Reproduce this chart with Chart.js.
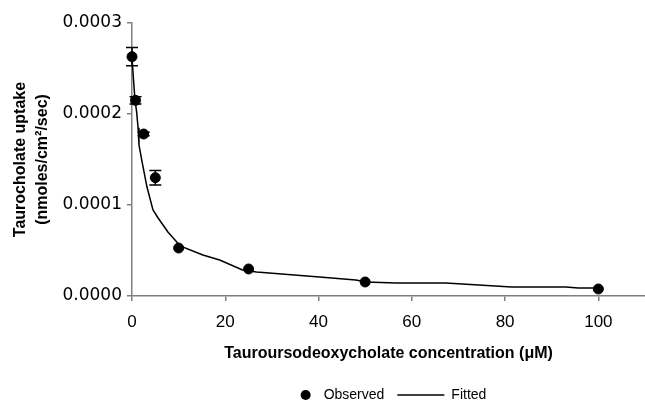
<!DOCTYPE html>
<html>
<head>
<meta charset="utf-8">
<script src="https://cdn.jsdelivr.net/npm/chart.js@4.4.1/dist/chart.umd.min.js"></script>
<style>
  html, body { margin: 0; padding: 0; background: #fff; }
  #wrap { width: 645px; height: 405px; position: relative; }
</style>
</head>
<body>
<div id="wrap"><canvas id="chart"></canvas></div>
<script>
// observed points (concentration in uM, uptake nmoles/cm2/sec)
const concentrations = [0, 0.75, 2.5, 5, 10, 25, 50, 100];
const observed = [0.000263, 0.000215, 0.000178, 0.000130, 0.0000527, 0.0000297, 0.0000154, 0.0000077];
const observedErr = [0.00001, 0.000004, 0.000002, 0.000008, 0, 0, 0, 0];

// fitted curve
const fitX = [0, 0.4, 0.65, 1, 1.3, 1.5, 2.1, 3.2, 4.5, 5.6, 7.7, 9.6, 10.3, 15.2, 18.8, 23.7, 26.7, 40.2, 48, 50.2, 56.6, 67.3, 81.4, 93, 95.7, 100];
const fitY = [0.000262, 0.000232, 0.000215, 0.000202, 0.000185, 0.000166, 0.000149, 0.00012, 0.0000945, 0.0000857, 0.0000703, 0.0000593, 0.000055, 0.000045, 0.0000396, 0.0000286, 0.0000264, 0.0000209, 0.0000176, 0.0000154, 0.0000143, 0.0000143, 0.0000099, 0.0000099, 0.0000088, 0.0000088];

const xTicks = [0, 20, 40, 60, 80, 100];
const yTicks = [0, 0.0001, 0.0002, 0.0003];

const axisGrey = '#808080';

const errorBars = {
  id: 'errorBars',
  afterDatasetsDraw(chart) {
    const ctx = chart.ctx;
    const xs = chart.scales.x, ys = chart.scales.y;
    ctx.save();
    ctx.strokeStyle = '#000';
    ctx.lineWidth = 1.5;
    concentrations.forEach((c, i) => {
      const e = observedErr[i];
      if (!e) return;
      const x = xs.getPixelForValue(c);
      const top = ys.getPixelForValue(observed[i] + e);
      const bot = ys.getPixelForValue(observed[i] - e);
      ctx.beginPath();
      ctx.moveTo(x, top); ctx.lineTo(x, bot);
      ctx.moveTo(x - 6, top); ctx.lineTo(x + 6, top);
      ctx.moveTo(x - 6, bot); ctx.lineTo(x + 6, bot);
      ctx.stroke();
    });
    ctx.restore();
  }
};

// legend under the axis title: dot for Observed, line for Fitted
const bottomLegend = {
  id: 'bottomLegend',
  afterDraw(chart) {
    const ctx = chart.ctx;
    const ds = chart.data.datasets;
    ctx.save();
    ctx.font = '14px "Liberation Sans", Arial, sans-serif';
    ctx.textBaseline = 'middle';
    ctx.fillStyle = '#000';
    const w0 = ctx.measureText(ds[0].label).width;
    const w1 = ctx.measureText(ds[1].label).width;
    const total = 10 + 13 + w0 + 13 + 47 + 7 + w1;
    const cx = (chart.chartArea.left + chart.chartArea.right) / 2 + 5;
    const y = 395;
    let x = cx - total / 2;
    ctx.beginPath();
    ctx.arc(x + 5, y, 5, 0, Math.PI * 2);
    ctx.fill();
    x += 10 + 13;
    ctx.fillText(ds[0].label, x, y);
    x += w0 + 13;
    ctx.strokeStyle = '#000';
    ctx.lineWidth = 1.5;
    ctx.beginPath();
    ctx.moveTo(x, y); ctx.lineTo(x + 47, y);
    ctx.stroke();
    x += 47 + 7;
    ctx.fillText(ds[1].label, x, y);
    ctx.restore();
  }
};

new Chart(document.getElementById('chart'), {
  type: 'scatter',
  data: {
    datasets: [{
      label: 'Observed',
      data: concentrations.map((c, i) => ({ x: c, y: observed[i] })),
      backgroundColor: '#000',
      borderColor: '#000',
      pointRadius: 5,
      pointHoverRadius: 5,
      showLine: false,
      clip: false
    }, {
      label: 'Fitted',
      type: 'line',
      data: fitX.map((v, i) => ({ x: v, y: fitY[i] })),
      borderColor: '#000',
      borderWidth: 1.5,
      pointRadius: 0,
      tension: 0,
      fill: false,
      clip: false
    }]
  },
  options: {
    responsive: true,
    maintainAspectRatio: false,
    animation: false,
    layout: { autoPadding: false, padding: { left: 0, right: 0, top: 23, bottom: 40 } },
    plugins: {
      legend: { display: false },
      tooltip: { enabled: false }
    },
    scales: {
      x: {
        type: 'linear',
        min: 0,
        max: 110,
        afterFit(scale) {
          scale.height = 69;
          scale.paddingLeft = 0;
          scale.paddingRight = 0;
        },
        afterBuildTicks(scale) { scale.ticks = xTicks.map(v => ({ value: v })); },
        border: { color: axisGrey, width: 1.5 },
        grid: { drawOnChartArea: false, color: axisGrey, lineWidth: 1.5, tickLength: 5 },
        ticks: {
          color: '#000',
          padding: 11,
          maxRotation: 0,
          font: { family: '"Liberation Sans", Arial, sans-serif', size: 17 }
        },
        title: {
          display: true,
          text: 'Tauroursodeoxycholate concentration (\u03bcM)',
          color: '#000',
          padding: { top: 0, bottom: 2 },
          font: { family: '"Liberation Sans", Arial, sans-serif', size: 16, weight: 'bold' }
        }
      },
      y: {
        min: 0,
        max: 0.0003,
        afterFit(scale) { scale.width = 132; },
        afterBuildTicks(scale) { scale.ticks = yTicks.map(v => ({ value: v })); },
        border: { color: axisGrey, width: 1.5 },
        grid: { drawOnChartArea: false, color: axisGrey, lineWidth: 1.5, tickLength: 5 },
        ticks: {
          color: '#000',
          padding: 5,
          font: { family: '"DejaVu Sans", sans-serif', size: 17 },
          callback: v => v.toFixed(4)
        },
        title: {
          display: true,
          text: ['Taurocholate uptake', '(nmoles/cm\u00b2/sec)'],
          color: '#000',
          padding: { top: 10, bottom: 0 },
          font: { family: '"Liberation Sans", Arial, sans-serif', size: 16, weight: 'bold', lineHeight: 1.375 }
        }
      }
    }
  },
  plugins: [errorBars, bottomLegend]
});
</script>
</body>
</html>
